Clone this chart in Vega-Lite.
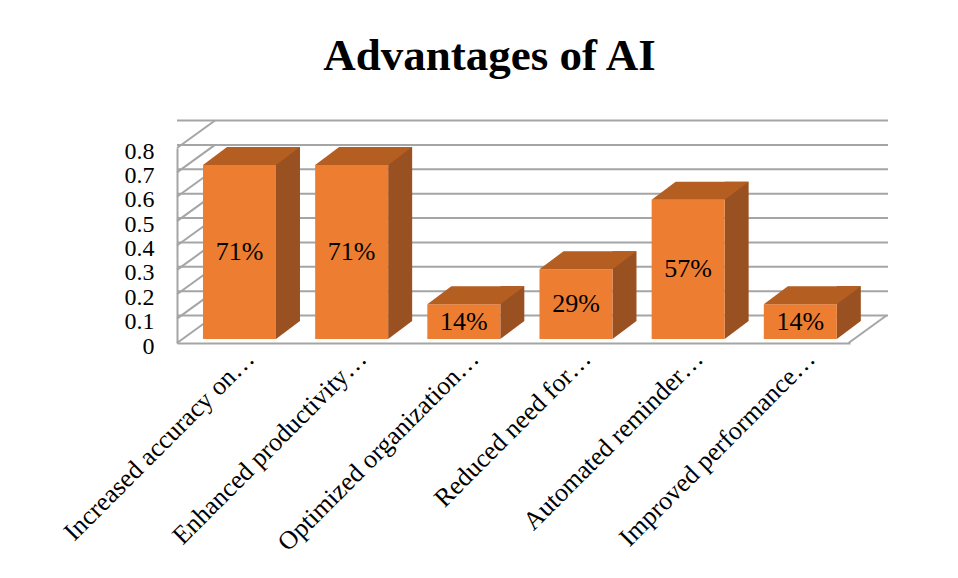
{
  "$schema": "https://vega.github.io/schema/vega-lite/v6.json",
  "width": 673,
  "height": 195,
  "autosize": {"type": "none"},
  "padding": {"left": 177, "top": 148, "right": 108, "bottom": 235},
  "background": "white",
  "title": {"text": "Advantages of AI", "font": "Liberation Serif", "fontSize": 45, "fontWeight": "bold", "color": "black", "anchor": "middle", "frame": "group", "dx": -24, "offset": 37},
  "config": {
    "view": {"stroke": null},
    "font": "Liberation Serif",
    "axisY": {"grid": false, "ticks": false, "domainColor": "#A5A5A5", "domainWidth": 2, "labelFont": "Liberation Serif", "labelFontSize": 24, "labelColor": "black", "labelPadding": 23, "labelOffset": 3, "labelOverlap": false, "title": null},
    "axisX": {"grid": false, "ticks": false, "domainColor": "#A5A5A5", "domainWidth": 2, "labelFont": "Liberation Serif", "labelFontSize": 26, "labelColor": "black", "labelLimit": 400, "labelPadding": 2, "labelOverlap": false, "labelAngle": -45, "labelOffset": 8, "title": null}
  },
  "datasets": {
    "bars": [
      {"cat": "Increased accuracy on…", "value": 0.714},
      {"cat": "Enhanced productivity…", "value": 0.714},
      {"cat": "Optimized organization…", "value": 0.143},
      {"cat": "Reduced need for…", "value": 0.286},
      {"cat": "Automated reminder…", "value": 0.571},
      {"cat": "Improved performance…", "value": 0.143}
    ],
    "ticks": [{"t": 0}, {"t": 0.1}, {"t": 0.2}, {"t": 0.3}, {"t": 0.4}, {"t": 0.5}, {"t": 0.6}, {"t": 0.7}, {"t": 0.8}]
  },
  "resolve": {"scale": {"y": "independent"}},
  "layer": [
    {
      "layer": [
        {
          "data": {"name": "ticks"},
          "mark": {"type": "rule", "color": "#A5A5A5", "strokeWidth": 2, "xOffset": 38, "x2Offset": 35, "yOffset": -27.5},
          "encoding": {
            "y": {"field": "t", "type": "quantitative", "scale": {"domain": [0, 0.8], "nice": false, "zero": true},
              "axis": {"values": [0, 0.1, 0.2, 0.3, 0.4, 0.5, 0.6, 0.7, 0.8], "format": "~g", "title": null}}
          }
        },
        {
          "data": {"name": "ticks"},
          "mark": {"type": "point", "shape": "M-1,0.7237L1,-0.7237", "size": 1444, "filled": false, "stroke": "#A5A5A5", "strokeWidth": 2, "opacity": 1, "xOffset": 19, "yOffset": -13.75},
          "encoding": {
            "x": {"datum": "Increased accuracy on…", "type": "nominal", "bandPosition": 0, "title": null},
            "y": {"field": "t", "type": "quantitative", "axis": {"values": [0, 0.1, 0.2, 0.3, 0.4, 0.5, 0.6, 0.7, 0.8], "format": "~g", "title": null}}
          }
        },
        {
          "data": {"values": [{"t": 0}]},
          "mark": {"type": "point", "shape": "M-1,0.7237L1,-0.7237", "size": 1444, "filled": false, "stroke": "#A5A5A5", "strokeWidth": 2, "opacity": 1, "xOffset": 17.5, "yOffset": -13.75},
          "encoding": {
            "x": {"datum": "Improved performance…", "type": "nominal", "bandPosition": 1, "title": null},
            "y": {"field": "t", "type": "quantitative", "axis": {"values": [0, 0.1, 0.2, 0.3, 0.4, 0.5, 0.6, 0.7, 0.8], "format": "~g", "title": null}}
          }
        },
        {
          "data": {"name": "bars"},
          "mark": {"type": "bar", "width": 24, "color": "#9A5122", "xOffset": 54.9, "yOffset": -22, "y2Offset": -22},
          "encoding": {
            "x": {"field": "cat", "type": "nominal", "title": null},
            "y": {"field": "value", "type": "quantitative", "axis": {"values": [0, 0.1, 0.2, 0.3, 0.4, 0.5, 0.6, 0.7, 0.8], "format": "~g", "title": null}},
            "y2": {"datum": 0}
          }
        },
        {
          "data": {"name": "bars"},
          "mark": {"type": "point", "shape": "M-1,-0.75L1,-0.75L-1,0.75Z", "size": 576, "filled": true, "fill": "#9A5122", "strokeWidth": 0, "opacity": 1, "xOffset": 54.9, "yOffset": -13},
          "encoding": {
            "x": {"field": "cat", "type": "nominal", "title": null},
            "y": {"datum": 0, "type": "quantitative", "axis": {"values": [0, 0.1, 0.2, 0.3, 0.4, 0.5, 0.6, 0.7, 0.8], "format": "~g", "title": null}}
          }
        },
        {
          "data": {"name": "bars"},
          "mark": {"type": "bar", "width": 73, "color": "#ED7D31", "xOffset": 6.4, "yOffset": -4, "y2Offset": -4},
          "encoding": {
            "x": {"field": "cat", "type": "nominal", "sort": null,
              "scale": {"domain": ["Increased accuracy on…", "Enhanced productivity…", "Optimized organization…", "Reduced need for…", "Automated reminder…", "Improved performance…"], "paddingInner": 0, "paddingOuter": 0},
              "title": null},
            "y": {"field": "value", "type": "quantitative", "axis": {"values": [0, 0.1, 0.2, 0.3, 0.4, 0.5, 0.6, 0.7, 0.8], "format": "~g", "title": null}},
            "y2": {"datum": 0}
          }
        },
        {
          "data": {"name": "bars"},
          "mark": {"type": "point", "shape": "M-1,0.1856L-0.5052,-0.1856L1,-0.1856L0.5052,0.1856Z", "size": 9409, "filled": true, "fill": "#B55E22", "strokeWidth": 0, "opacity": 1, "xOffset": 18.4, "yOffset": -13},
          "encoding": {
            "x": {"field": "cat", "type": "nominal", "title": null},
            "y": {"field": "value", "type": "quantitative", "axis": {"values": [0, 0.1, 0.2, 0.3, 0.4, 0.5, 0.6, 0.7, 0.8], "format": "~g", "title": null}}
          }
        }
      ]
    },
    {
      "data": {"name": "bars"},
      "mark": {"type": "text", "font": "Liberation Serif", "fontSize": 26, "color": "black", "xOffset": 6.4, "yOffset": -4, "baseline": "middle"},
      "encoding": {
        "x": {"field": "cat", "type": "nominal", "title": null},
        "y": {"field": "value", "type": "quantitative", "scale": {"domain": [0, 1.6], "nice": false}, "axis": null},
        "text": {"field": "value", "type": "quantitative", "format": ".0%"}
      }
    }
  ]
}
